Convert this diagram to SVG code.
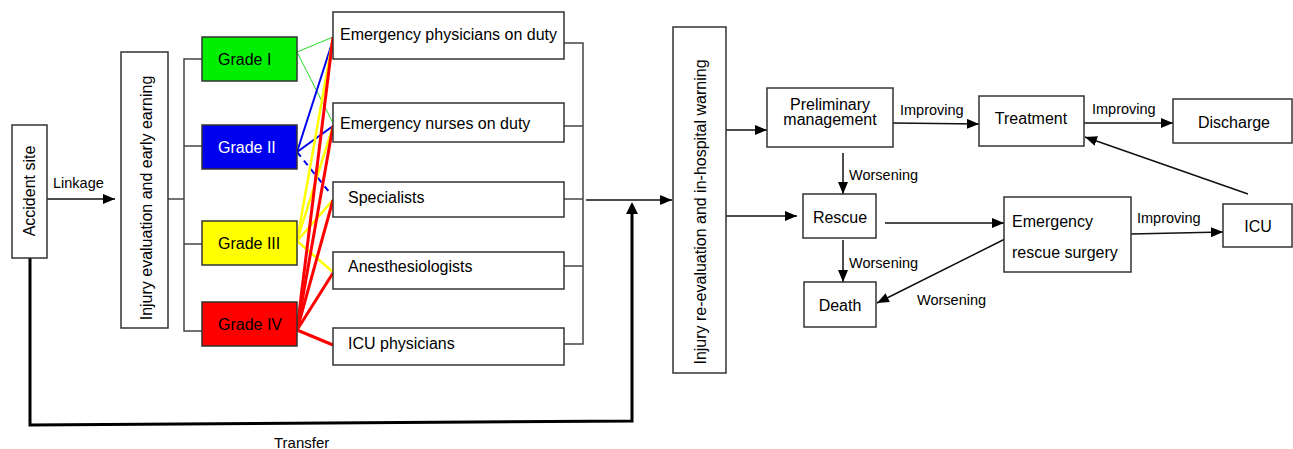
<svg xmlns="http://www.w3.org/2000/svg" width="1293" height="449" viewBox="0 0 1293 449">
<style>
text{font-family:"Liberation Sans",Arial,sans-serif;font-size:16px;fill:#000}
.lbl{font-size:14.5px}
.box{fill:#fff;stroke:#333;stroke-width:1.5}
.br{fill:none;stroke:#444;stroke-width:1.5}
.ar{fill:none;stroke:#111;stroke-width:1.5;marker-end:url(#ah)}
.g{stroke:#22dd22;stroke-width:1;fill:none}
.b{stroke:#0000ee;stroke-width:2;fill:none}
.y{stroke:#ffff00;stroke-width:2.5;fill:none}
.r{stroke:#ff0000;stroke-width:3;fill:none}
</style>
<defs>
<marker id="ah" viewBox="0 0 12 10" refX="12" refY="5" markerWidth="12" markerHeight="10" markerUnits="userSpaceOnUse" orient="auto">
<path d="M0,0 L12,5 L0,10 z" fill="#000"/>
</marker>
</defs>

<g id="connectors">
<line class="ar" x1="47" y1="199" x2="115" y2="199"/>
<text class="lbl" x="53" y="188">Linkage</text>
<polyline class="br" points="168,199 184,199"/>
<polyline class="br" points="202,59 184,59 184,331 202,331"/>
<line class="br" x1="184" y1="146" x2="202" y2="146"/>
<line class="br" x1="184" y1="244" x2="202" y2="244"/>

<line class="g" x1="297" y1="52" x2="333" y2="37"/>
<line class="g" x1="297" y1="52" x2="333" y2="123"/>
<line class="b" x1="297" y1="152" x2="333" y2="40"/>
<line class="b" x1="297" y1="152" x2="333" y2="126"/>
<line class="b" x1="297" y1="152" x2="330" y2="193" stroke-dasharray="6,5"/>
<line class="y" x1="297" y1="241" x2="333" y2="38"/>
<line class="y" x1="297" y1="241" x2="333" y2="126"/>
<line class="y" x1="297" y1="241" x2="333" y2="200"/>
<line class="y" x1="297" y1="241" x2="333" y2="272"/>
<line class="r" x1="297" y1="330" x2="333" y2="37"/>
<line class="r" x1="297" y1="330" x2="333" y2="126"/>
<line class="r" x1="297" y1="330" x2="333" y2="200"/>
<line class="r" x1="297" y1="330" x2="333" y2="273"/>
<line class="r" x1="297" y1="330" x2="333" y2="345"/>

<polyline class="br" points="564,43 583,43 583,344 564,344"/>
<line class="br" x1="564" y1="126" x2="583" y2="126"/>
<line class="br" x1="564" y1="199" x2="583" y2="199"/>
<line class="br" x1="564" y1="266" x2="583" y2="266"/>
<line class="ar" x1="586" y1="200" x2="672" y2="200"/>

<polyline points="30,258 30,425 632,421 632,213" fill="none" stroke="#000" stroke-width="3"/>
<path d="M626,214 L632,202 L638,214 z" fill="#000"/>
<text x="274" y="448" style="font-size:15px">Transfer</text>

<line class="ar" x1="726" y1="130" x2="767" y2="130"/>
<line class="ar" x1="726" y1="216" x2="797" y2="216"/>
<line class="ar" x1="893" y1="123" x2="979" y2="124"/>
<text class="lbl" x="900" y="115">Improving</text>
<line class="ar" x1="1084" y1="123" x2="1173" y2="123"/>
<text class="lbl" x="1092" y="114">Improving</text>
<line class="ar" x1="843" y1="153" x2="843" y2="194"/>
<text class="lbl" x="849" y="180">Worsening</text>
<line class="ar" x1="843" y1="240" x2="843" y2="282"/>
<text class="lbl" x="849" y="268">Worsening</text>
<line class="ar" x1="885" y1="223" x2="1004" y2="223"/>
<line class="ar" x1="1005" y1="239" x2="877" y2="303"/>
<text class="lbl" x="917" y="305">Worsening</text>
<line class="ar" x1="1131" y1="234" x2="1223" y2="232"/>
<text class="lbl" x="1137" y="223">Improving</text>
<line class="ar" x1="1248" y1="194" x2="1085" y2="137"/>
</g>

<g id="accident-site">
<rect class="box" x="12" y="125" width="35" height="133"/>
<text transform="translate(35,191) rotate(-90)" text-anchor="middle">Accident site</text>
</g>
<g id="injury-evaluation">
<rect class="box" x="121" y="52" width="47" height="276"/>
<text transform="translate(152,198) rotate(-90)" text-anchor="middle">Injury evaluation and early earning</text>
</g>
<g id="grade-1">
<rect x="202" y="37" width="95" height="44" fill="#00ee00" stroke="#333" stroke-width="1.5"/>
<text x="218" y="65">Grade I</text>
</g>
<g id="grade-2">
<rect x="202" y="125" width="95" height="44" fill="#0000ee" stroke="#333" stroke-width="1.5"/>
<text x="218" y="153" style="fill:#fff">Grade II</text>
</g>
<g id="grade-3">
<rect x="202" y="221" width="95" height="44" fill="#ffff00" stroke="#333" stroke-width="1.5"/>
<text x="218" y="249">Grade III</text>
</g>
<g id="grade-4">
<rect x="202" y="302" width="95" height="44" fill="#ff0000" stroke="#333" stroke-width="1.5"/>
<text x="218" y="330">Grade IV</text>
</g>
<g id="emergency-physicians">
<rect class="box" x="333" y="12" width="231" height="47"/>
<text x="340" y="40">Emergency physicians on duty</text>
</g>
<g id="emergency-nurses">
<rect class="box" x="333" y="103" width="231" height="39"/>
<text x="340" y="129">Emergency nurses on duty</text>
</g>
<g id="specialists">
<rect class="box" x="333" y="182" width="231" height="35"/>
<text x="348" y="203">Specialists</text>
</g>
<g id="anesthesiologists">
<rect class="box" x="333" y="252" width="231" height="37"/>
<text x="348" y="272">Anesthesiologists</text>
</g>
<g id="icu-physicians">
<rect class="box" x="333" y="328" width="231" height="37"/>
<text x="348" y="349">ICU physicians</text>
</g>
<g id="re-evaluation">
<rect class="box" x="673" y="27" width="53" height="346"/>
<text transform="translate(706,212) rotate(-90)" text-anchor="middle">Injury re-evaluation and in-hospital warning</text>
</g>
<g id="preliminary">
<rect class="box" x="767" y="88" width="126" height="59"/>
<text x="830" y="110" text-anchor="middle">Preliminary</text>
<text x="830" y="125" text-anchor="middle">management</text>
</g>
<g id="treatment">
<rect class="box" x="979" y="96" width="105" height="50"/>
<text x="1031" y="124" text-anchor="middle">Treatment</text>
</g>
<g id="discharge">
<rect class="box" x="1173" y="99" width="119" height="44"/>
<text x="1234" y="128" text-anchor="middle">Discharge</text>
</g>
<g id="rescue">
<rect class="box" x="803" y="194" width="73" height="44"/>
<text x="840" y="223" text-anchor="middle">Rescue</text>
</g>
<g id="death">
<rect class="box" x="804" y="282" width="72" height="45"/>
<text x="840" y="311" text-anchor="middle">Death</text>
</g>
<g id="emergency-rescue-surgery">
<rect class="box" x="1004" y="197" width="127" height="75"/>
<text x="1012" y="227">Emergency</text>
<text x="1012" y="258">rescue surgery</text>
</g>
<g id="icu">
<rect class="box" x="1223" y="204" width="69" height="43"/>
<text x="1258" y="232" text-anchor="middle">ICU</text>
</g>
</svg>
